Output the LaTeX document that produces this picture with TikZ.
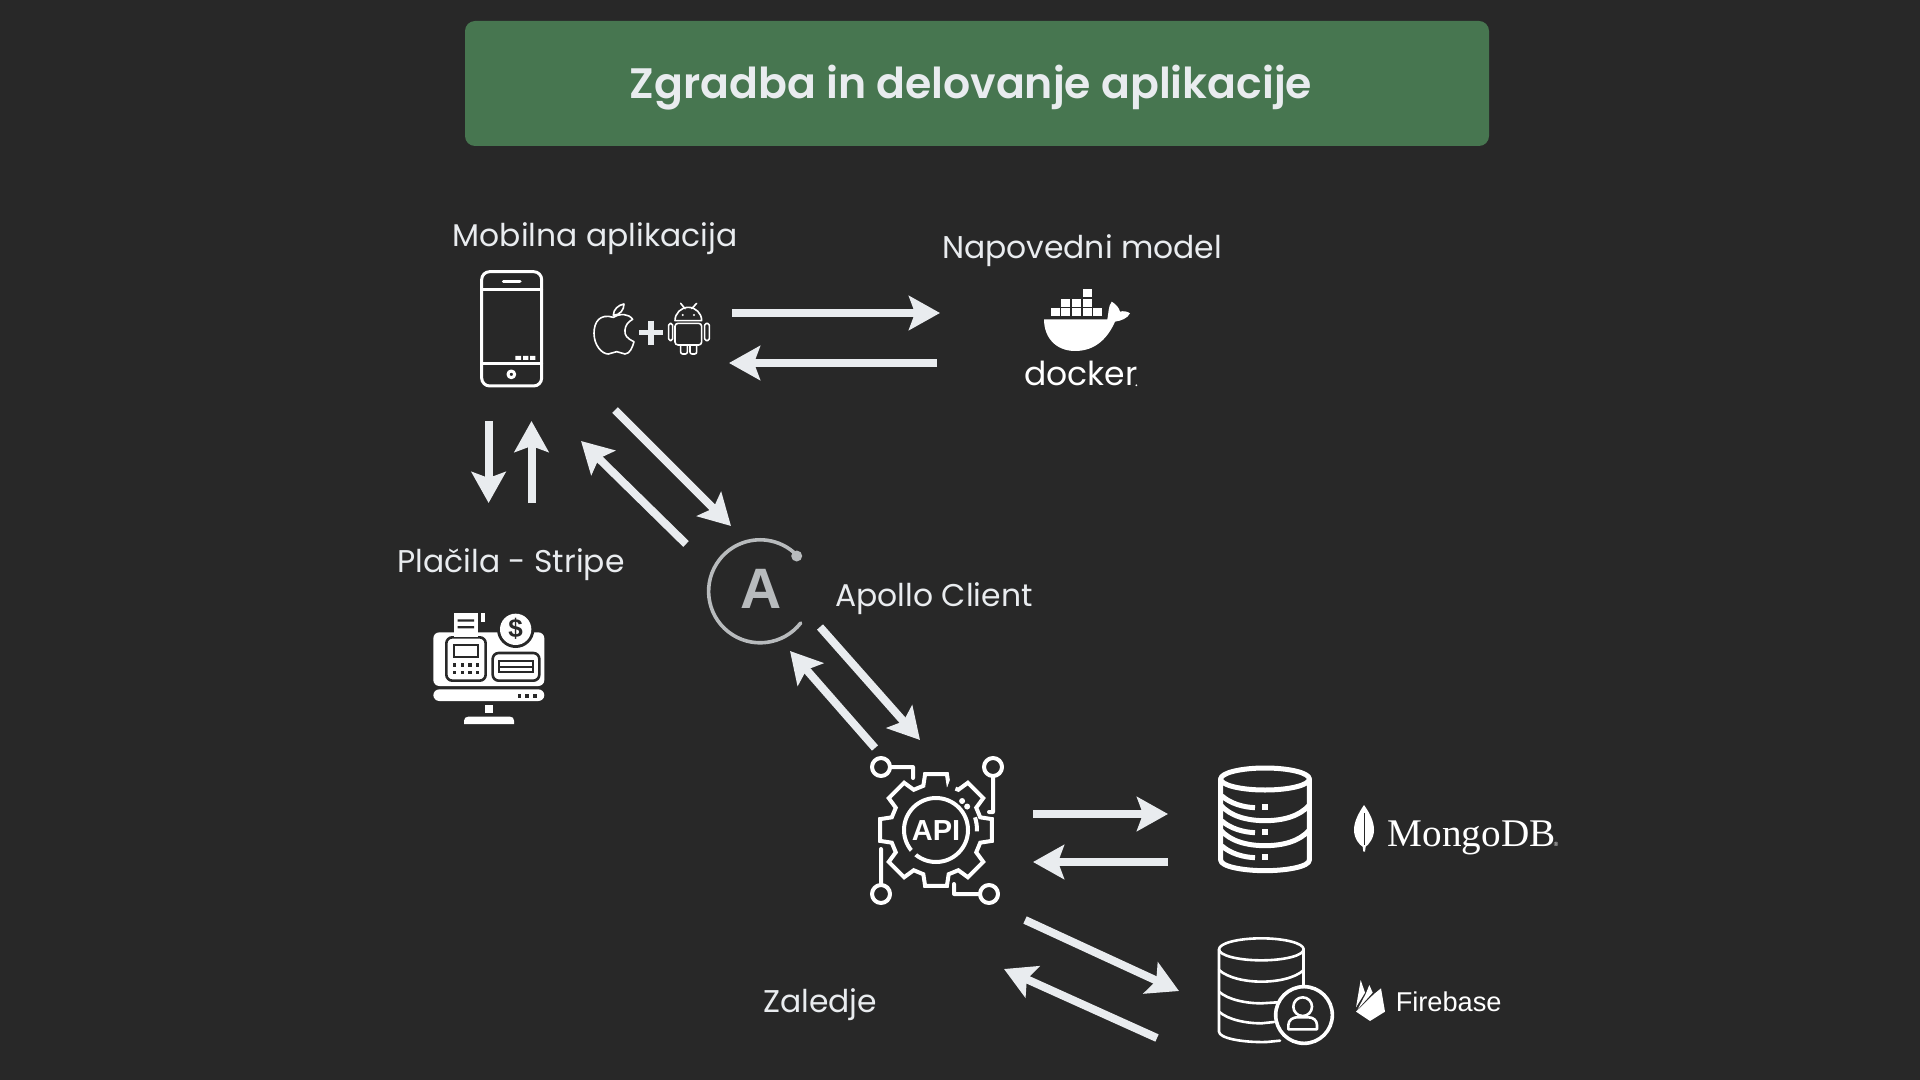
\documentclass[tikz,border=0pt]{standalone}
\usepackage{fontspec}
\usetikzlibrary{arrows.meta}
\setmainfont{Poppins}
\newfontfamily\titlefont{Poppins SemiBold}
\newfontfamily\serifbrand{Liberation Serif}
\newfontfamily\sansbrand{Liberation Sans}
\definecolor{bgc}{HTML}{282828}
\definecolor{boxc}{HTML}{477650}
\definecolor{arrc}{HTML}{E9ECEF}
\definecolor{apolloc}{HTML}{B8BBBD}
\tikzset{
  x=0.5pt,y=-0.5pt,
  arr/.style={draw=arrc,line width=4pt,-{Stealth[length=15.5pt,width=17pt,inset=3pt]}},
  lbl/.style={text=arrc,inner sep=0pt,font=\fontsize{15.7}{18}\selectfont},
  ic/.style={draw=white,line join=round,line cap=round},
  icf/.style={fill=white,draw=none},
  dk/.style={fill=bgc,draw=none}
}
\begin{document}
\begin{tikzpicture}
\useasboundingbox (0,0) rectangle (1920,1080);
\fill[bgc] (0,0) rectangle (1920,1080);
% title
\node[fill=boxc,rounded corners=5pt,minimum width=512pt,minimum height=62.5pt,inner sep=0pt] (title) at (977,83.5) {};
\node[inner sep=0pt,text=arrc,font=\titlefont\fontsize{21.3}{24}\selectfont] (titletxt) at (971,88) {Zgradba in delovanje aplikacije};
% labels
\node[lbl] (lmob) at (595,238.5) {Mobilna aplikacija};
\node[lbl] (lnap) at (1082,250.5) {Napovedni model};
\node[lbl] (lpla) at (511,564.5) {Plačila - Stripe};
\node[lbl] (lapo) at (934,598.5) {Apollo Client};
\node[lbl] (lzal) at (820,1004.5) {Zaledje};
% arrow ends
\coordinate (m1) at (732,313); \coordinate (d1) at (940,313);
\coordinate (d2) at (937,363); \coordinate (m2) at (729,363);
\coordinate (m3) at (488.6,421); \coordinate (p1) at (488.6,503);
\coordinate (p2) at (531.5,503); \coordinate (m4) at (531.5,421);
\coordinate (m5) at (615,410); \coordinate (a1) at (731,526);
\coordinate (a2) at (686,544); \coordinate (m6) at (581,441);
\coordinate (a3) at (820,627); \coordinate (b1) at (920,740);
\coordinate (b2) at (875,748); \coordinate (a4) at (790,651);
\coordinate (b3) at (1033,814); \coordinate (c1) at (1168,814);
\coordinate (c2) at (1168,862); \coordinate (b4) at (1033,862);
\coordinate (b5) at (1025,920); \coordinate (e1) at (1179,991);
\coordinate (e2) at (1157,1038); \coordinate (b6) at (1004,969);
\foreach \s/\e in {m1/d1,d2/m2,m3/p1,p2/m4,m5/a1,a2/m6,a3/b1,b2/a4,b3/c1,c2/b4,b5/e1,e2/b6}
  \draw[arr] (\s) -- (\e);
% phone, apple, plus, android (zoom coordinates)
\begin{scope}[shift={(440,200)},scale=1/3]
  \draw[ic,line width=1.5pt,rounded corners=4pt] (125,215) rectangle (305,558);
  \draw[ic,line width=1.5pt] (125,268) -- (305,268) (125,492) -- (305,492);
  \draw[ic,line width=1.5pt] (190,245) -- (240,245);
  \fill[white] (226,468) rectangle (243,480) (249,468) rectangle (265,480) (270,468) rectangle (286,480);
  \draw[ic,line width=1.5pt] (214,523) circle (10);
  % apple
  \draw[ic,line width=0.8pt] (520,352) .. controls (480,340) and (462,365) .. (462,400)
    .. controls (462,435) and (485,462) .. (505,462)
    .. controls (515,462) and (520,455) .. (530,455)
    .. controls (540,455) and (545,462) .. (555,462)
    .. controls (570,462) and (578,440) .. (582,425)
    .. controls (560,415) and (553,405) .. (555,390)
    .. controls (556,375) and (565,365) .. (578,358)
    .. controls (565,340) and (540,340) .. (520,352) -- cycle;
  \draw[ic,line width=0.8pt] (520,346) .. controls (520,328) and (535,315) .. (552,312)
    .. controls (552,330) and (540,345) .. (520,346) -- cycle;
  \draw[arrc,line width=2.6pt] (597,398) -- (670,398) (633,362) -- (633,434);
  % android
  \draw[ic,line width=0.8pt] (705,362) arc (180:360:40) -- cycle;
  \draw[ic,line width=0.8pt] (735,326) -- (722,310) (755,326) -- (770,310);
  \fill[white] (728,345) circle (3.5) (762,345) circle (3.5);
  \draw[ic,line width=0.8pt,rounded corners=1.5pt] (705,370) -- (785,370) -- (785,435) -- (705,435) -- cycle;
  \draw[ic,line width=0.8pt,rounded corners=0.9pt] (686,370) rectangle (698,422);
  \draw[ic,line width=0.8pt,rounded corners=0.9pt] (794,370) rectangle (808,422);
  \draw[ic,line width=0.8pt,rounded corners=1pt] (722,435) -- (722,462) -- (742,462) -- (742,435);
  \draw[ic,line width=0.8pt,rounded corners=1pt] (750,435) -- (750,462) -- (770,462) -- (770,435);
\end{scope}
% docker
\begin{scope}[shift={(1000,280)},scale=1/3]
  \foreach \x in {152,184,216,248,280} \fill[white] (\x,85) rectangle ++(27,24);
  \foreach \x in {184,216,248} \fill[white] (\x,56) rectangle ++(27,24);
  \fill[white] (248,27) rectangle ++(27,24);
  \fill[white] (132,118) -- (322,118) .. controls (326,100) and (324,80) .. (335,65)
    .. controls (348,72) and (358,85) .. (360,95)
    .. controls (370,92) and (382,94) .. (390,100)
    .. controls (382,115) and (365,122) .. (345,125)
    .. controls (325,170) and (290,213) .. (225,213)
    .. controls (170,213) and (132,175) .. (132,118) -- cycle;
  \node[text=white,inner sep=0pt,anchor=base,font=\fontsize{16.5}{20}\selectfont] (dock) at (243,318) {docker};
  \fill[white] (409,316) circle (3);
\end{scope}
% cash register
\begin{scope}[shift={(380,590)},scale=1/3]
  \fill[white,rounded corners=3pt] (160,127) rectangle (493,288);
  \fill[white,rounded corners=3pt] (160,298) -- (493,298) -- (493,333) -- (160,333) -- cycle;
  \fill[white] (315,345) rectangle (338,368);
  \fill[white] (252,402) -- (252,392) .. controls (252,384) and (258,380) .. (265,380) -- (390,380) .. controls (397,380) and (402,384) .. (402,392) -- (402,402) -- cycle;
  \foreach \x in {418,441,464} \fill[bgc] (\x-5,312) rectangle ++(11,11);
  \draw[bgc,line width=1.3pt,fill=white,rounded corners=3pt] (199,142) rectangle (317,272);
  \draw[bgc,line width=1.3pt] (222,165) rectangle (294,201);
  \foreach \x in {223,247,270,293} \foreach \y in {225,247} \fill[bgc] (\x-5,\y-5) rectangle ++(10,10);
  \draw[bgc,line width=1.3pt,fill=white,rounded corners=3pt] (338,189) rectangle (478,272);
  \draw[bgc,line width=1.1pt] (357,213) rectangle (458,247);
  \fill[bgc] (357,228) rectangle (458,235);
  \fill[white] (222,70) rectangle (293,140);
  \fill[bgc] (233,88) rectangle (282,95) (233,108) rectangle (282,115);
  \fill[white] (304,70) rectangle (315,95);
  \fill[bgc] (407,118) circle (56);
  \fill[white] (407,118) circle (47);
  \node[text=bgc,inner sep=0pt,font=\sansbrand\fontsize{13}{14}\selectfont\bfseries] (dollar) at (407,117) {\$};
\end{scope}
% apollo
\draw[apolloc,line width=1.8pt,line cap=round] (800.7,623) arc (38:315:51.5);
\fill[apolloc] (796.7,556) circle (5.5);
\node[text=apolloc,inner sep=0pt,font=\sansbrand\fontsize{28.5}{30}\selectfont\bfseries] (apA) at (761,589) {A};
% API gear
\begin{scope}[shift={(936,830)}]
  \draw[ic,line width=2pt,miter limit=4,line join=miter]
   (-16:46) -- (-11:57) -- (11:57) -- (16:46)
   \foreach \a in {45,90,...,315} { -- (\a-16:46) -- (\a-11:57) -- (\a+11:57) -- (\a+16:46) } -- cycle;
  \draw[bgc,line width=4pt] (-70:40) -- (-70:52);
  \draw[ic,line width=2pt] (0,0) circle (32);
  \draw[bgc,line width=3pt] (135:26) -- (135:38);
  \draw[ic,line width=2pt,line cap=butt] (-18:41) arc (-18:2:41);
  \fill[white] (-48:39) circle (3) (-37:39) circle (3);
  \node[text=white,inner sep=0pt,font=\sansbrand\fontsize{14.5}{16}\selectfont\bfseries] (apitxt) at (0,1) {API};
\end{scope}
\coordinate (c1a) at (881,767); \coordinate (c1b) at (913,767); \coordinate (c1c) at (913,778);
\draw[ic,line width=2pt] (c1a) circle (9) (890,767) -- (c1b) -- (c1c);
\draw[ic,line width=2pt] (993,767) circle (9) (993,776) -- (993,812) -- (989,812);
\draw[ic,line width=2pt] (881,894) circle (9) (881,885) -- (881,849);
\draw[ic,line width=2pt] (989,894) circle (9) (980,894) -- (954,894) -- (954,884);
% database 1 + mongo
\begin{scope}[shift={(1200,750)},scale=1/3]
  \draw[ic,line width=2.5pt] (195,87) ellipse (133 and 33);
  \draw[ic,line width=2.5pt] (62,87) -- (62,330) .. controls (62,350) and (130,362) .. (195,362) .. controls (260,362) and (328,350) .. (328,330) -- (328,87);
  \foreach \d in {0,75} {
    \draw[ic,line width=2.5pt] (62,165+\d) .. controls (90,198+\d) and (140,212+\d) .. (195,212+\d) .. controls (250,212+\d) and (300,198+\d) .. (328,165+\d);
  }
  \foreach \d in {0,75,150} {
    \draw[ic,line width=2.5pt,line cap=butt] (66,138+\d) .. controls (90,160+\d) and (130,172+\d) .. (165,173+\d);
    \fill[white] (185,162+\d) rectangle ++(20,18);
  }
  % leaf
  \fill[white] (492,165) .. controls (510,190) and (522,215) .. (522,240) .. controls (522,265) and (505,285) .. (497,290) -- (495,305) -- (490,305) -- (488,290) .. controls (478,285) and (462,265) .. (462,240) .. controls (462,215) and (475,190) .. (492,165) -- cycle;
  \draw[bgc,line width=0.4pt] (492,190) -- (492,285);
  \node[text=white,inner sep=0pt,anchor=base west,font=\serifbrand\fontsize{19.6}{22}\selectfont] (mongo) at (562,288) {MongoDB};
  \node[text=white,inner sep=0pt,anchor=base west,font=\sansbrand\fontsize{3}{3}\selectfont] (mreg) at (1060,288) {®};
\end{scope}
% database 2 + firebase
\begin{scope}[shift={(1200,750)},scale=1/3]
  \draw[ic,line width=1.3pt] (184,598) ellipse (127 and 33);
  \draw[ic,line width=1.3pt] (57,598) -- (57,845) .. controls (57,865) and (130,878) .. (200,876) -- (240,872);
  \draw[ic,line width=1.3pt] (311,598) -- (311,705);
  \draw[ic,line width=1.3pt] (57,660) .. controls (85,685) and (140,695) .. (184,695) .. controls (230,695) and (285,685) .. (311,660);
  \draw[ic,line width=1.3pt] (57,725) .. controls (85,750) and (140,760) .. (184,760) -- (232,757);
  \draw[ic,line width=1.3pt] (57,785) .. controls (85,810) and (140,820) .. (184,820) -- (222,816);
  \draw[white,fill=bgc,line width=1.8pt] (312,795) circle (85);
  \draw[ic,line width=1.3pt] (308,770) circle (28);
  \draw[ic,line width=1.3pt] (265,838) -- (265,825) .. controls (265,810) and (280,802) .. (290,802) -- (326,802) .. controls (338,802) and (351,810) .. (351,825) -- (351,838) -- cycle;
  \node[text=white,inner sep=0pt,anchor=base west,font=\sansbrand\fontsize{13.6}{16}\selectfont] (fire) at (586,785) {Firebase};
\end{scope}
% flame
\begin{scope}[shift={(1345,970)},scale=1/3]
  \fill[white] (47,30) -- (60,68) -- (33,112) -- cycle;
  \fill[white] (73,45) -- (83,68) -- (38,118) -- (62,72) -- cycle;
  \fill[white] (108,55) -- (120,125) -- (75,153) -- (33,125) -- (87,72) -- cycle;
\end{scope}
\end{tikzpicture}
\end{document}
